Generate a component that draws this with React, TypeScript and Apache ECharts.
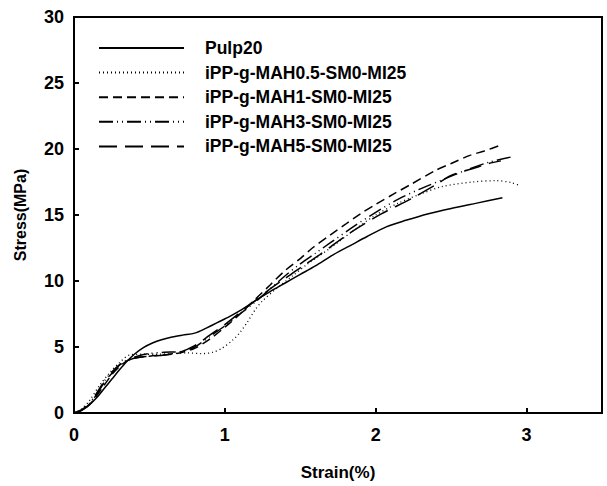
import React, { useEffect, useRef } from "react";
import * as echarts from "echarts";

const seriesNames = [
  "Pulp20",
  "iPP-g-MAH0.5-SM0-MI25",
  "iPP-g-MAH1-SM0-MI25",
  "iPP-g-MAH3-SM0-MI25",
  "iPP-g-MAH5-SM0-MI25",
];

const pulp20: number[][] = [
  [0, 0], [0.05, 0.2], [0.1, 0.6], [0.15, 1.15], [0.2, 1.85], [0.25, 2.55], [0.3, 3.25], [0.35, 3.9],
  [0.4, 4.45], [0.46, 4.95], [0.52, 5.3], [0.58, 5.55], [0.65, 5.75], [0.72, 5.9], [0.8, 6.05],
  [0.88, 6.45], [0.95, 6.85], [1.03, 7.3], [1.1, 7.75], [1.2, 8.5], [1.3, 9.2], [1.4, 9.85],
  [1.5, 10.5], [1.6, 11.15], [1.72, 12.0], [1.85, 12.8], [1.94, 13.35], [2.07, 14.1], [2.2, 14.6],
  [2.35, 15.1], [2.5, 15.5], [2.67, 15.9], [2.84, 16.3],
];

const mah05: number[][] = [
  [0, 0], [0.05, 0.3], [0.1, 0.9], [0.17, 2.1], [0.24, 3.1], [0.3, 3.8], [0.37, 4.4], [0.45, 4.45],
  [0.55, 4.45], [0.65, 4.5], [0.75, 4.55], [0.85, 4.5], [0.92, 4.6], [0.98, 4.9], [1.05, 5.5],
  [1.1, 6.1], [1.15, 6.9], [1.2, 7.8], [1.25, 8.5], [1.35, 9.5], [1.45, 10.4], [1.55, 11.3],
  [1.7, 12.5], [1.85, 13.8], [2.0, 15.0], [2.15, 15.9], [2.3, 16.6], [2.44, 17.15], [2.64, 17.5],
  [2.8, 17.6], [2.9, 17.45], [2.96, 17.2],
];

const mah1: number[][] = [
  [0, 0], [0.05, 0.2], [0.1, 0.6], [0.15, 1.3], [0.2, 2.1], [0.25, 2.9], [0.3, 3.5], [0.35, 3.95],
  [0.4, 4.15], [0.5, 4.3], [0.6, 4.4], [0.7, 4.55], [0.8, 4.9], [0.9, 5.6], [1.0, 6.5], [1.1, 7.5],
  [1.2, 8.6], [1.3, 9.7], [1.4, 10.8], [1.5, 11.7], [1.58, 12.5], [1.7, 13.5], [1.8, 14.3],
  [1.9, 15.1], [2.0, 15.8], [2.12, 16.6], [2.23, 17.3], [2.4, 18.4], [2.5, 18.9], [2.62, 19.5],
  [2.72, 19.85], [2.83, 20.3],
];

const mah3: number[][] = [
  [0, 0], [0.05, 0.25], [0.1, 0.7], [0.15, 1.5], [0.2, 2.4], [0.25, 3.1], [0.3, 3.65], [0.35, 4.0],
  [0.42, 4.3], [0.5, 4.5], [0.6, 4.6], [0.7, 4.65], [0.8, 5.0], [0.9, 5.8], [1.0, 6.6], [1.1, 7.5],
  [1.2, 8.4], [1.3, 9.4], [1.4, 10.4], [1.5, 11.3], [1.6, 12.1], [1.7, 12.9], [1.85, 14.1],
  [2.0, 15.2], [2.15, 16.2], [2.3, 17.0], [2.45, 17.7], [2.6, 18.4], [2.75, 19.0], [2.9, 19.4],
];

const mah5: number[][] = [
  [0, 0], [0.05, 0.2], [0.1, 0.65], [0.15, 1.4], [0.2, 2.3], [0.25, 3.0], [0.3, 3.6], [0.35, 3.95],
  [0.42, 4.2], [0.5, 4.3], [0.6, 4.4], [0.7, 4.6], [0.8, 5.1], [0.9, 5.9], [1.0, 6.7], [1.1, 7.6],
  [1.2, 8.5], [1.3, 9.4], [1.4, 10.2], [1.5, 11.0], [1.63, 12.0], [1.75, 13.0], [1.85, 13.8],
  [2.04, 15.1], [2.23, 16.2], [2.4, 17.3], [2.5, 18.0], [2.64, 18.5], [2.75, 18.9], [2.83, 19.1],
];

const seriesData = [pulp20, mah05, mah1, mah3, mah5];

const dashTypes: any[] = ["solid", [1, 3], [9, 5], [14, 4, 1, 4, 1, 4], [18, 8]];
const lineWidths = [1.5, 1.3, 1.5, 1.5, 1.5];

const FONT = "'Liberation Sans', Arial, sans-serif";

export default function App() {
  const ref = useRef<HTMLDivElement>(null);
  useEffect(() => {
    if (!ref.current) return;
    const chart = echarts.init(ref.current, undefined, { renderer: "svg" });
    chart.setOption({
      animation: false,
      backgroundColor: "#fff",
      grid: {
        left: 74,
        right: 5,
        top: 17,
        bottom: 68,
        show: true,
        borderColor: "#000",
        borderWidth: 2,
        containLabel: false,
      },
      legend: {
        orient: "vertical",
        left: 98,
        top: 39,
        padding: 0,
        itemWidth: 85,
        itemHeight: 18,
        itemGap: 6.6,
        data: seriesNames,
        itemStyle: { opacity: 0 },
        textStyle: {
          fontFamily: FONT,
          fontWeight: "bold",
          fontSize: 17.5,
          lineHeight: 18,
          color: "#000",
          padding: [0, 0, 0, 16],
        },
      },
      xAxis: {
        type: "value",
        min: 0,
        max: 3.5,
        interval: 1,
        name: "Strain(%)",
        nameLocation: "middle",
        nameGap: 51,
        nameTextStyle: { fontFamily: FONT, fontWeight: "bold", fontSize: 17, color: "#000" },
        axisLine: { lineStyle: { color: "#000", width: 2 } },
        axisTick: { inside: true, length: 5, lineStyle: { color: "#000", width: 2 } },
        axisLabel: {
          fontFamily: FONT,
          fontWeight: "bold",
          fontSize: 18,
          color: "#000",
          margin: 13,
          showMaxLabel: false,
        },
        splitLine: { show: false },
      },
      yAxis: {
        type: "value",
        min: 0,
        max: 30,
        interval: 5,
        name: "Stress(MPa)",
        nameLocation: "middle",
        nameGap: 46,
        nameTextStyle: { fontFamily: FONT, fontWeight: "bold", fontSize: 16, color: "#000" },
        axisLine: { lineStyle: { color: "#000", width: 2 } },
        axisTick: { inside: true, length: 5, lineStyle: { color: "#000", width: 2 } },
        axisLabel: {
          fontFamily: FONT,
          fontWeight: "bold",
          fontSize: 18,
          color: "#000",
          margin: 10,
        },
        splitLine: { show: false },
      },
      series: seriesNames.map((name, i) => ({
        name,
        type: "line",
        data: seriesData[i],
        smooth: 0.3,
        symbol: "none",
        lineStyle: { color: "#000", width: lineWidths[i], type: dashTypes[i] },
        itemStyle: { color: "#000" },
      })),
    });
    return () => chart.dispose();
  }, []);
  return (
    <div
      ref={ref}
      style={{ position: "fixed", left: 0, top: 0, width: 607, height: 486, background: "#fff" }}
    />
  );
}
